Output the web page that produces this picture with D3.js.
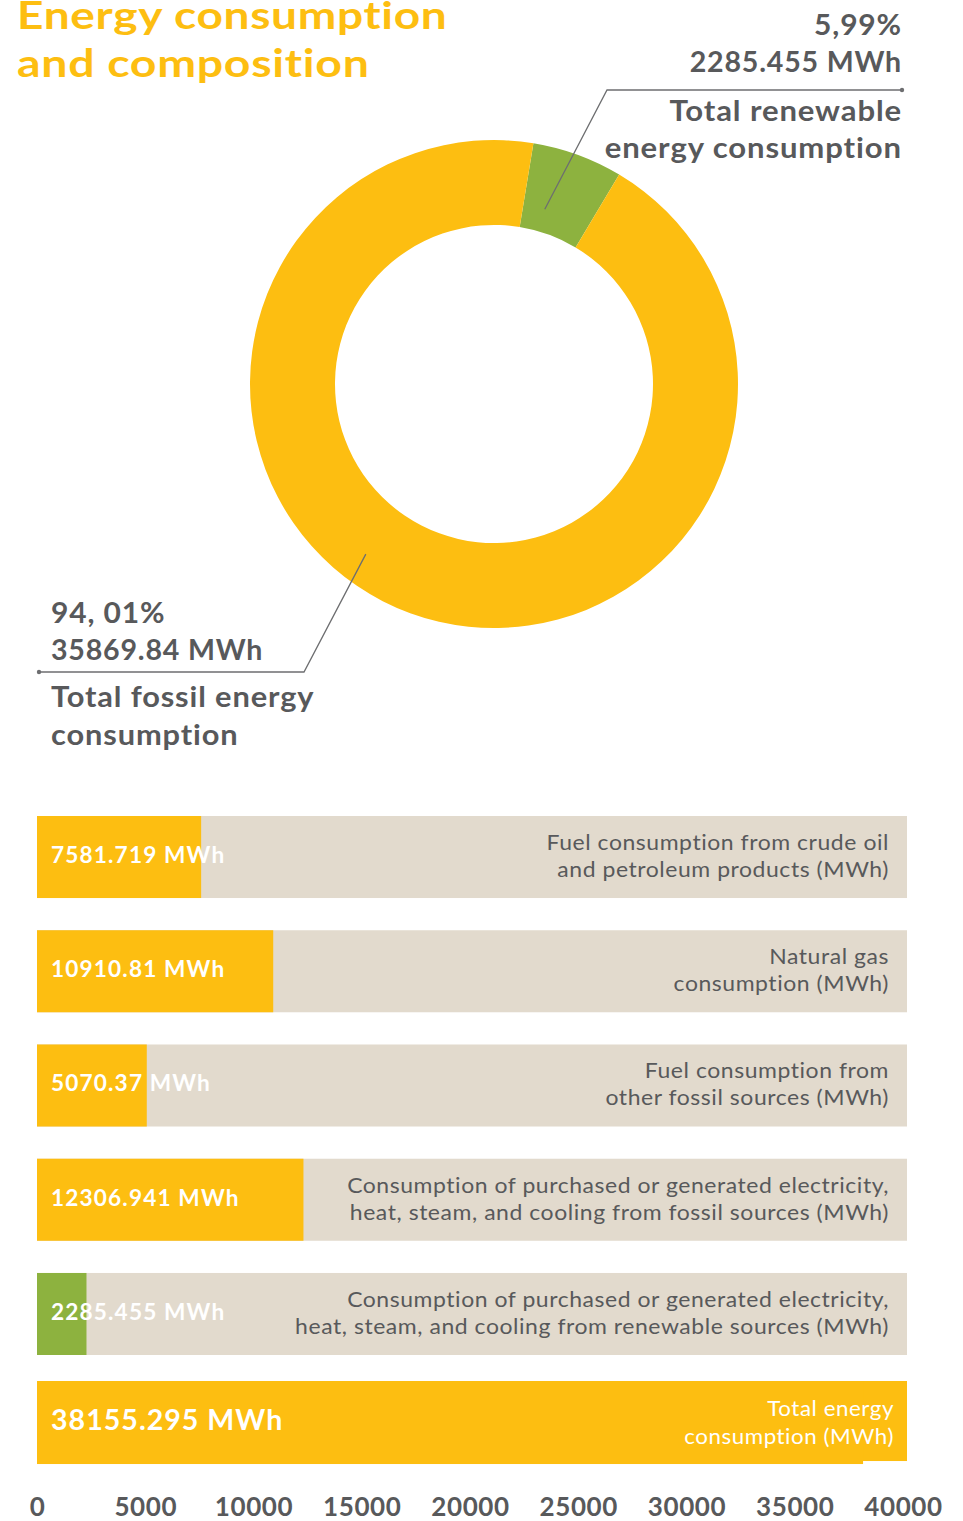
<!DOCTYPE html>
<html>
<head>
<meta charset="utf-8">
<script src="https://cdn.jsdelivr.net/npm/d3@7"></script>
<style>
  html, body { margin: 0; padding: 0; background: #fff; }
  svg { display: block; font-family: Lato, "Noto Sans", sans-serif; }
</style>
</head>
<body>
<svg id="chart" width="963" height="1521"></svg>
<script>
// Energy totals (MWh) and shares shown in the donut
const donutKeys = ["renewable", "fossil"];
const donutValues = [2285.455, 35869.84];
const donutPercentLabels = ["5,99%", "94, 01%"];
const donutValueLabels = ["2285.455 MWh", "35869.84 MWh"];
const donutNames = [["Total renewable", "energy consumption"], ["Total fossil energy", "consumption"]];

// Breakdown bars
const barCategories = ["crude", "gas", "otherFossil", "elecFossil", "elecRenewable"];
const barValues = [7581.719, 10910.81, 5070.37, 12306.941, 2285.455];
const barValueLabels = ["7581.719 MWh", "10910.81 MWh", "5070.37 MWh", "12306.941 MWh", "2285.455 MWh"];
const barLabelLines = [
  ["Fuel consumption from crude oil", "and petroleum products (MWh)"],
  ["Natural gas", "consumption  (MWh)"],
  ["Fuel consumption from", "other fossil sources  (MWh)"],
  ["Consumption of purchased or generated electricity,", "heat, steam, and cooling from fossil sources  (MWh)"],
  ["Consumption of purchased or generated electricity,", "heat, steam, and cooling from renewable sources  (MWh)"]
];
const barKinds = ["fossil", "fossil", "fossil", "fossil", "renewable"];

const totalValue = 38155.295;
const totalValueLabel = "38155.295 MWh";
const totalLabelLines = ["Total energy", "consumption (MWh)"];

const axisTicks = [0, 5000, 10000, 15000, 20000, 25000, 30000, 35000, 40000];

// Palette
const YELLOW = "#FDBE11";
const GREEN = "#8DB23F";
const TRACK = "#E2DACD";
const GREY = "#58595B";
const LINE = "#6D6E70";
const colorOf = { fossil: YELLOW, renewable: GREEN };

const svg = d3.select("#chart");

// Text placed at an anchor point and widened horizontally around it
function wideText(parent, x, y, str, sx) {
  return parent.append("g")
    .attr("transform", `translate(${x},${y}) scale(${sx},1)`)
    .append("text").attr("x", 0).attr("y", 0).text(str);
}

// ---- Title ----
const title = svg.append("g")
  .attr("fill", YELLOW)
  .attr("font-weight", 700)
  .attr("font-size", 39)
  .attr("letter-spacing", 0.6);
wideText(title, 17, 29, "Energy consumption", 1.18);
wideText(title, 17, 77, "and composition", 1.19);

// ---- Donut ----
const cx = 494, cy = 384;
const outerR = 244, innerR = 159;
const startAngle = 9.3 * Math.PI / 180;

const pie = d3.pie().sort(null)
  .startAngle(startAngle)
  .endAngle(startAngle + 2 * Math.PI);
const arcs = pie(donutValues);
const arc = d3.arc().innerRadius(innerR).outerRadius(outerR);

const donut = svg.append("g").attr("transform", `translate(${cx},${cy})`);
donut.selectAll("path")
  .data(arcs)
  .join("path")
  .attr("d", arc)
  .attr("fill", (d, i) => colorOf[donutKeys[i]]);

// Leader lines from the ring out to the annotations
function leader(angleDeg, r, elbowX, elbowY, endX) {
  const p = d3.pointRadial(angleDeg * Math.PI / 180, r);
  const pts = [[cx + p[0], cy + p[1]], [elbowX, elbowY], [endX, elbowY]];
  svg.append("path")
    .attr("d", d3.line()(pts))
    .attr("fill", "none")
    .attr("stroke", LINE)
    .attr("stroke-width", 1.3);
  svg.append("circle").attr("cx", endX).attr("cy", elbowY).attr("r", 2.2).attr("fill", LINE);
}
leader(16.2, 182, 607, 90, 902);
leader(217, 213, 304, 672, 39);

// Annotation text
const ann = svg.append("g")
  .attr("fill", GREY)
  .attr("font-weight", 700)
  .attr("font-size", 28)
  .attr("letter-spacing", 0.8);

const rAnn = ann.append("g").attr("text-anchor", "end");
wideText(rAnn, 902, 35, donutPercentLabels[0], 1.07);
wideText(rAnn, 902, 72, donutValueLabels[0], 1.02);
wideText(rAnn, 902, 121, donutNames[0][0], 1.11);
wideText(rAnn, 902, 158, donutNames[0][1], 1.11);

const lAnn = ann.append("g").attr("text-anchor", "start");
wideText(lAnn, 51, 623, donutPercentLabels[1], 1.07);
wideText(lAnn, 51, 660, donutValueLabels[1], 1.02);
wideText(lAnn, 51, 707, donutNames[1][0], 1.1);
wideText(lAnn, 51, 745, donutNames[1][1], 1.1);

// ---- Bars ----
const x = d3.scaleLinear().domain([0, 40000]).range([37, 903]);
const trackLeft = 37, trackRight = 907;

const y = d3.scaleBand()
  .domain(barCategories)
  .range([816, 1355])
  .paddingInner(0.282)
  .paddingOuter(0);
const bh = y.bandwidth();

const rows = svg.append("g").selectAll("g")
  .data(barCategories)
  .join("g")
  .attr("transform", d => `translate(0,${y(d)})`);

rows.append("rect")
  .attr("x", trackLeft)
  .attr("width", trackRight - trackLeft)
  .attr("height", bh)
  .attr("fill", TRACK);

rows.append("rect")
  .attr("x", x(0))
  .attr("width", (d, i) => x(barValues[i]) - x(0))
  .attr("height", bh)
  .attr("fill", (d, i) => colorOf[barKinds[i]]);

rows.each(function(d, i) {
  const row = d3.select(this);
  const v = row.append("g")
    .attr("fill", "#fff")
    .attr("font-weight", 700)
    .attr("font-size", 22)
    .attr("letter-spacing", 1.1);
  wideText(v, 51, 47, barValueLabels[i], 1.03);

  const lab = row.append("g")
    .attr("text-anchor", "end")
    .attr("fill", GREY)
    .attr("font-size", 20.5)
    .attr("letter-spacing", 0.5);
  barLabelLines[i].forEach((line, k) => {
    wideText(lab, 889, 34 + k * 27, line, 1.12);
  });
});

// Total bar
const totalTop = y(barCategories[barCategories.length - 1]) + bh + 26;
const total = svg.append("g").attr("transform", `translate(0,${totalTop})`);
total.append("rect")
  .attr("x", trackLeft).attr("width", trackRight - trackLeft)
  .attr("height", bh - 2).attr("fill", YELLOW);
total.append("rect")
  .attr("x", x(0)).attr("width", x(totalValue) - x(0))
  .attr("height", bh + 1).attr("fill", YELLOW);
const tv = total.append("g")
  .attr("fill", "#fff").attr("font-weight", 700)
  .attr("font-size", 28).attr("letter-spacing", 1);
wideText(tv, 51, 49, totalValueLabel, 1.02);
const tl = total.append("g")
  .attr("text-anchor", "end").attr("fill", "#fff")
  .attr("font-size", 20.5).attr("letter-spacing", 0.5);
totalLabelLines.forEach((line, k) => {
  wideText(tl, 894, 35 + k * 28, line, 1.09);
});

// ---- Axis ----
const axis = svg.append("g")
  .attr("transform", `translate(0,1491)`)
  .call(d3.axisBottom(x).tickValues(axisTicks).tickSize(0).tickPadding(0).tickFormat(d3.format("d")));
axis.select(".domain").remove();
axis.selectAll("text")
  .attr("fill", GREY)
  .attr("font-family", "Lato, sans-serif")
  .attr("font-size", 26)
  .attr("font-weight", 700)
  .attr("letter-spacing", 0.6)
  .attr("dy", "0.98em");
</script>
</body>
</html>
